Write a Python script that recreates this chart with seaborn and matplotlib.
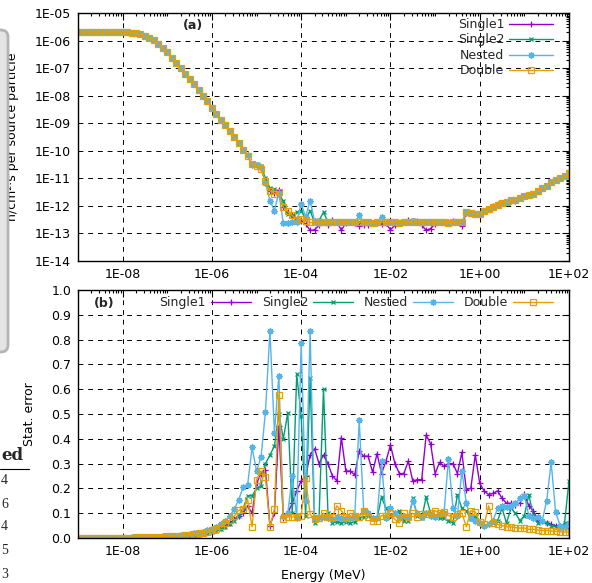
import matplotlib
matplotlib.use("Agg")
import matplotlib.pyplot as plt
import seaborn as sns
import numpy as np
from matplotlib.ticker import FixedLocator, FuncFormatter, LogLocator, NullFormatter, MultipleLocator
from matplotlib.patches import FancyBboxPatch
from matplotlib.lines import Line2D

sns.set_theme(style="white")
plt.rcParams['font.family'] = ['DejaVu Sans']

# ---------------- data ----------------
log_energy = [
    -9.0, -8.9, -8.8, -8.7, -8.6, -8.5, -8.4, -8.3, -8.2, -8.1,
    -8.0, -7.9, -7.8, -7.7, -7.6, -7.5, -7.4, -7.3, -7.2, -7.1,
    -7.0, -6.9, -6.8, -6.7, -6.6, -6.5, -6.4, -6.3, -6.2, -6.1,
    -6.0, -5.9, -5.8, -5.7, -5.6, -5.5, -5.4, -5.3, -5.2, -5.1,
    -5.0, -4.9, -4.8, -4.7, -4.6, -4.5, -4.4, -4.3, -4.2, -4.1,
    -4.0, -3.9, -3.8, -3.7, -3.6, -3.5, -3.4, -3.3, -3.2, -3.1,
    -3.0, -2.9, -2.8, -2.7, -2.6, -2.5, -2.4, -2.3, -2.2, -2.1,
    -2.0, -1.9, -1.8, -1.7, -1.6, -1.5, -1.4, -1.3, -1.2, -1.1,
    -1.0, -0.9, -0.8, -0.7, -0.6, -0.5, -0.4, -0.3, -0.2, -0.1,
    0.0, 0.1, 0.2, 0.3, 0.4, 0.5, 0.6, 0.7, 0.8, 0.9,
    1.0, 1.1, 1.2, 1.3, 1.4, 1.5, 1.6, 1.7, 1.8, 1.9,
    2.0,
]
energy = [10.0 ** e for e in log_energy]
series_names = ["Single1", "Single2", "Nested", "Double"]

flux_single1 = [
    2.05e-6, 2.05e-6, 2.05e-6, 2.05e-6, 2.05e-6, 2.05e-6, 2.05e-6, 2.05e-6, 2.05e-6, 2.03e-6,
    2.0e-6, 2.0e-6, 1.93e-6, 1.82e-6, 1.66e-6, 1.51e-6, 1.26e-6, 1.02e-6, 7.6e-7, 5.5e-7,
    3.7e-7, 2.4e-7, 1.5e-7, 9.8e-8, 6.2e-8, 4.0e-8, 2.6e-8, 1.6e-8, 9.8e-9, 6.2e-9,
    3.7e-9, 2.2e-9, 1.35e-9, 8.7e-10, 5.1e-10, 3.1e-10, 1.9e-10, 1.1e-10, 6.3e-11, 3.0e-11,
    2.8e-11, 2.2e-11, 7.5e-12, 3.4e-12, 2.9e-12, 3.7e-12, 9.5e-13, 6.0e-13, 4.8e-13, 3.4e-13,
    2.9e-13, 2.2e-13, 1.3e-13, 1.35e-13, 2.0e-13, 2.6e-13, 2.1e-13, 3.2e-13, 2.7e-13, 1.3e-13,
    2.4e-13, 2.5e-13, 2.3e-13, 1.8e-13, 2.0e-13, 2.1e-13, 2.3e-13, 2.4e-13, 2.2e-13, 2.3e-13,
    1.35e-13, 2.0e-13, 2.4e-13, 2.5e-13, 3.0e-13, 2.9e-13, 2.9e-13, 2.0e-13, 1.3e-13, 1.5e-13,
    2.2e-13, 2.6e-13, 2.5e-13, 2.7e-13, 2.8e-13, 2.5e-13, 1.9e-13, 5.7e-13, 5.6e-13, 5.1e-13,
    5.2e-13, 6.3e-13, 7.9e-13, 1.0e-12, 1.15e-12, 1.26e-12, 1.41e-12, 1.45e-12, 1.5e-12, 1.9e-12,
    2.24e-12, 2.5e-12, 2.8e-12, 3.5e-12, 4.5e-12, 5.4e-12, 7.1e-12, 8.5e-12, 1.0e-11, 1.17e-11,
    1.5e-11,
]
flux_single2 = [
    2.05e-6, 2.05e-6, 2.05e-6, 2.05e-6, 2.05e-6, 2.05e-6, 2.05e-6, 2.05e-6, 2.05e-6, 2.03e-6,
    2.0e-6, 2.0e-6, 1.93e-6, 1.82e-6, 1.66e-6, 1.51e-6, 1.26e-6, 1.02e-6, 7.6e-7, 5.5e-7,
    3.7e-7, 2.4e-7, 1.5e-7, 9.8e-8, 6.2e-8, 4.0e-8, 2.6e-8, 1.6e-8, 9.8e-9, 6.2e-9,
    3.7e-9, 2.2e-9, 1.35e-9, 8.7e-10, 5.1e-10, 3.1e-10, 1.9e-10, 1.2e-10, 7.0e-11, 3.2e-11,
    3.3e-11, 2.8e-11, 1.0e-11, 4.5e-12, 4.0e-12, 2.5e-12, 1.55e-12, 5.0e-13, 4.2e-13, 5.9e-13,
    6.8e-13, 3.3e-13, 6.8e-13, 2.5e-13, 3.0e-13, 5.9e-13, 2.6e-13, 2.3e-13, 2.6e-13, 2.5e-13,
    2.5e-13, 2.6e-13, 2.5e-13, 2.6e-13, 2.6e-13, 2.5e-13, 2.4e-13, 2.5e-13, 2.6e-13, 2.5e-13,
    2.5e-13, 2.6e-13, 2.4e-13, 2.5e-13, 2.6e-13, 3.0e-13, 2.6e-13, 2.5e-13, 2.5e-13, 2.6e-13,
    2.5e-13, 2.7e-13, 2.5e-13, 2.4e-13, 2.5e-13, 2.6e-13, 2.5e-13, 5.9e-13, 5.6e-13, 5.1e-13,
    5.2e-13, 6.3e-13, 7.9e-13, 8.9e-13, 1.07e-12, 1.26e-12, 1.41e-12, 1.58e-12, 1.66e-12, 1.9e-12,
    2.24e-12, 2.5e-12, 2.8e-12, 3.5e-12, 4.5e-12, 5.4e-12, 7.1e-12, 8.5e-12, 1.0e-11, 1.17e-11,
    1.6e-11,
]
flux_nested = [
    2.05e-6, 2.05e-6, 2.05e-6, 2.05e-6, 2.05e-6, 2.05e-6, 2.05e-6, 2.05e-6, 2.05e-6, 2.03e-6,
    2.0e-6, 2.0e-6, 1.93e-6, 1.82e-6, 1.66e-6, 1.51e-6, 1.26e-6, 1.02e-6, 7.6e-7, 5.5e-7,
    3.7e-7, 2.4e-7, 1.5e-7, 9.8e-8, 6.2e-8, 4.0e-8, 2.6e-8, 1.6e-8, 9.8e-9, 6.2e-9,
    3.7e-9, 2.2e-9, 1.35e-9, 8.7e-10, 5.1e-10, 3.1e-10, 1.9e-10, 1.05e-10, 6.8e-11, 3.4e-11,
    3.0e-11, 2.5e-11, 7.0e-12, 1.55e-12, 6.8e-13, 3.0e-12, 2.3e-13, 2.4e-13, 2.6e-13, 2.7e-13,
    1.2e-12, 4.0e-13, 1.55e-12, 2.8e-13, 2.4e-13, 2.5e-13, 2.5e-13, 2.6e-13, 2.7e-13, 2.5e-13,
    2.5e-13, 2.6e-13, 2.5e-13, 4.5e-13, 2.6e-13, 2.5e-13, 2.4e-13, 2.5e-13, 4.0e-13, 2.5e-13,
    2.5e-13, 2.6e-13, 2.4e-13, 2.5e-13, 2.6e-13, 2.7e-13, 2.6e-13, 2.5e-13, 2.5e-13, 2.6e-13,
    2.5e-13, 2.7e-13, 2.5e-13, 2.4e-13, 2.5e-13, 2.6e-13, 2.5e-13, 5.9e-13, 5.6e-13, 5.1e-13,
    5.2e-13, 6.3e-13, 7.9e-13, 8.9e-13, 1.07e-12, 1.26e-12, 1.41e-12, 1.58e-12, 1.66e-12, 1.9e-12,
    2.24e-12, 2.5e-12, 2.8e-12, 3.6e-12, 4.5e-12, 5.4e-12, 7.1e-12, 8.5e-12, 1.0e-11, 1.2e-11,
    1.5e-11,
]
flux_double = [
    2.05e-6, 2.05e-6, 2.05e-6, 2.05e-6, 2.05e-6, 2.05e-6, 2.05e-6, 2.05e-6, 2.05e-6, 2.03e-6,
    2.0e-6, 2.0e-6, 1.93e-6, 1.82e-6, 1.66e-6, 1.51e-6, 1.26e-6, 1.02e-6, 7.6e-7, 5.5e-7,
    3.7e-7, 2.4e-7, 1.5e-7, 9.8e-8, 6.2e-8, 4.0e-8, 2.6e-8, 1.6e-8, 9.8e-9, 6.2e-9,
    3.7e-9, 2.2e-9, 1.35e-9, 8.7e-10, 5.1e-10, 3.1e-10, 1.9e-10, 1.05e-10, 6.3e-11, 3.2e-11,
    2.8e-11, 2.2e-11, 7.9e-12, 3.5e-12, 2.8e-12, 3.2e-12, 8.9e-13, 6.3e-13, 4.5e-13, 3.2e-13,
    3.3e-13, 2.8e-13, 2.5e-13, 2.5e-13, 2.6e-13, 2.5e-13, 2.5e-13, 2.6e-13, 2.7e-13, 2.5e-13,
    2.5e-13, 2.6e-13, 2.5e-13, 2.5e-13, 2.6e-13, 2.5e-13, 2.4e-13, 2.5e-13, 2.6e-13, 2.5e-13,
    2.5e-13, 2.6e-13, 2.4e-13, 2.5e-13, 2.6e-13, 2.5e-13, 2.6e-13, 2.5e-13, 2.5e-13, 2.6e-13,
    2.5e-13, 2.7e-13, 2.5e-13, 2.4e-13, 2.5e-13, 2.6e-13, 2.5e-13, 5.9e-13, 5.6e-13, 5.1e-13,
    5.2e-13, 6.3e-13, 7.9e-13, 8.9e-13, 1.07e-12, 1.26e-12, 1.41e-12, 1.58e-12, 1.66e-12, 1.9e-12,
    2.24e-12, 2.5e-12, 2.8e-12, 3.5e-12, 4.5e-12, 5.4e-12, 7.1e-12, 8.5e-12, 1.0e-11, 1.17e-11,
    1.5e-11,
]

err_single1 = [
    0.001, 0.001, 0.001, 0.001, 0.001, 0.001, 0.001, 0.001, 0.002, 0.002,
    0.002, 0.002, 0.002, 0.003, 0.003, 0.003, 0.004, 0.004, 0.005, 0.005,
    0.006, 0.007, 0.008, 0.009, 0.011, 0.012, 0.014, 0.017, 0.020, 0.024,
    0.028, 0.034, 0.042, 0.050, 0.060, 0.075, 0.090, 0.100, 0.130, 0.100,
    0.220, 0.260, 0.275, 0.050, 0.100, 0.450, 0.080, 0.100, 0.140, 0.190,
    0.230, 0.250, 0.335, 0.360, 0.300, 0.335, 0.300, 0.250, 0.230, 0.405,
    0.270, 0.270, 0.255, 0.350, 0.330, 0.330, 0.265, 0.340, 0.260, 0.310,
    0.375, 0.300, 0.260, 0.260, 0.310, 0.230, 0.235, 0.235, 0.415, 0.380,
    0.260, 0.305, 0.290, 0.300, 0.300, 0.260, 0.345, 0.195, 0.200, 0.335,
    0.220, 0.190, 0.175, 0.180, 0.190, 0.160, 0.140, 0.140, 0.135, 0.140,
    0.177, 0.130, 0.110, 0.070, 0.070, 0.060, 0.055, 0.050, 0.045, 0.043,
    0.040,
]
err_single2 = [
    0.001, 0.001, 0.001, 0.001, 0.001, 0.001, 0.001, 0.001, 0.001, 0.001,
    0.001, 0.001, 0.002, 0.002, 0.002, 0.002, 0.003, 0.003, 0.004, 0.004,
    0.005, 0.006, 0.007, 0.008, 0.009, 0.010, 0.012, 0.014, 0.017, 0.020,
    0.024, 0.030, 0.036, 0.045, 0.055, 0.070, 0.090, 0.120, 0.170, 0.170,
    0.200, 0.210, 0.300, 0.335, 0.370, 0.500, 0.400, 0.505, 0.100, 0.660,
    0.490, 0.090, 0.645, 0.060, 0.080, 0.600, 0.100, 0.060, 0.065, 0.060,
    0.065, 0.060, 0.065, 0.080, 0.085, 0.090, 0.075, 0.080, 0.165, 0.120,
    0.090, 0.100, 0.110, 0.070, 0.070, 0.160, 0.090, 0.080, 0.165, 0.100,
    0.090, 0.080, 0.080, 0.070, 0.060, 0.175, 0.120, 0.110, 0.075, 0.090,
    0.060, 0.050, 0.055, 0.060, 0.070, 0.120, 0.060, 0.120, 0.100, 0.070,
    0.090, 0.175, 0.090, 0.060, 0.070, 0.060, 0.050, 0.045, 0.040, 0.060,
    0.230,
]
err_nested = [
    0.001, 0.001, 0.001, 0.001, 0.001, 0.001, 0.001, 0.001, 0.002, 0.002,
    0.002, 0.002, 0.003, 0.003, 0.003, 0.004, 0.004, 0.005, 0.006, 0.007,
    0.008, 0.009, 0.010, 0.012, 0.014, 0.016, 0.019, 0.022, 0.026, 0.031,
    0.037, 0.045, 0.055, 0.068, 0.090, 0.115, 0.155, 0.205, 0.215, 0.365,
    0.270, 0.325, 0.510, 0.835, 0.425, 0.655, 0.090, 0.100, 0.250, 0.080,
    0.785, 0.150, 0.835, 0.080, 0.085, 0.085, 0.080, 0.075, 0.085, 0.080,
    0.075, 0.080, 0.085, 0.475, 0.110, 0.100, 0.080, 0.080, 0.310, 0.080,
    0.120, 0.100, 0.085, 0.090, 0.085, 0.150, 0.100, 0.085, 0.100, 0.090,
    0.085, 0.095, 0.100, 0.320, 0.120, 0.090, 0.270, 0.140, 0.080, 0.070,
    0.060, 0.050, 0.055, 0.070, 0.120, 0.130, 0.125, 0.130, 0.140, 0.160,
    0.170, 0.090, 0.080, 0.085, 0.070, 0.150, 0.305, 0.105, 0.050, 0.045,
    0.060,
]
err_double = [
    0.001, 0.001, 0.001, 0.001, 0.001, 0.001, 0.001, 0.001, 0.002, 0.002,
    0.002, 0.002, 0.002, 0.003, 0.003, 0.003, 0.004, 0.004, 0.005, 0.006,
    0.007, 0.008, 0.009, 0.010, 0.012, 0.013, 0.016, 0.019, 0.022, 0.026,
    0.031, 0.038, 0.048, 0.060, 0.072, 0.088, 0.112, 0.115, 0.155, 0.045,
    0.235, 0.270, 0.245, 0.045, 0.115, 0.578, 0.075, 0.085, 0.085, 0.085,
    0.090, 0.240, 0.095, 0.075, 0.080, 0.100, 0.085, 0.085, 0.130, 0.110,
    0.085, 0.100, 0.090, 0.085, 0.110, 0.085, 0.070, 0.070, 0.090, 0.090,
    0.100, 0.075, 0.060, 0.100, 0.085, 0.100, 0.085, 0.095, 0.095, 0.100,
    0.110, 0.100, 0.105, 0.090, 0.085, 0.095, 0.100, 0.045, 0.110, 0.105,
    0.065, 0.055, 0.130, 0.060, 0.055, 0.050, 0.045, 0.045, 0.042, 0.040,
    0.040, 0.035, 0.035, 0.032, 0.030, 0.030, 0.028, 0.027, 0.025, 0.024,
    0.024,
]

flux = {"Single1": flux_single1, "Single2": flux_single2, "Nested": flux_nested, "Double": flux_double}
err = {"Single1": err_single1, "Single2": err_single2, "Nested": err_nested, "Double": err_double}

# ---------------- styles ----------------
styles = {
    "Single1": dict(color="#9400d3", marker="+", markersize=4.5, markeredgewidth=0.9,
                    markerfacecolor="#9400d3", markeredgecolor="#9400d3"),
    "Single2": dict(color="#009e73", marker="x", markersize=3.5, markeredgewidth=0.9,
                    markerfacecolor="#009e73", markeredgecolor="#009e73"),
    "Nested": dict(color="#56b4e9", marker=(8, 2, 0), markersize=4.5, markeredgewidth=1.0,
                   markerfacecolor="#56b4e9", markeredgecolor="#56b4e9"),
    "Double": dict(color="#e69f00", marker="s", markersize=4.0, markeredgewidth=0.9,
                   markerfacecolor="none", markeredgecolor="#e69f00"),
}

W, H = 592, 583
fig = plt.figure(figsize=(W / 100, H / 100), dpi=100)
fig.patch.set_facecolor("white")


def fbox(l, t, r, b):
    return [l / W, 1 - b / H, (r - l) / W, (b - t) / H]


ax1 = fig.add_axes(fbox(78, 13, 569, 261))
ax2 = fig.add_axes(fbox(78, 290, 569, 538))

for name in series_names:
    sns.lineplot(x=energy, y=flux[name], ax=ax1, linewidth=1.0, errorbar=None,
                 legend=False, **styles[name])
    sns.lineplot(x=energy, y=err[name], ax=ax2, linewidth=1.0, errorbar=None,
                 legend=False, **styles[name])


def efmt(v, pos):
    ex = int(round(np.log10(v)))
    return f"1E{ex:+03d}"


xmaj = [1e-8, 1e-6, 1e-4, 1e-2, 1e0, 1e2]
grid_kw = dict(color="black", linestyle=(0, (5, 5)), linewidth=0.7)
for ax in (ax1, ax2):
    ax.set_xscale("log")
    ax.set_xlim(1e-9, 1e2)
    ax.xaxis.set_major_locator(FixedLocator(xmaj))
    ax.xaxis.set_major_formatter(FuncFormatter(efmt))
    ax.xaxis.set_minor_locator(LogLocator(base=10, subs=np.arange(1, 10), numticks=100))
    ax.xaxis.set_minor_formatter(NullFormatter())
    ax.tick_params(which="both", direction="in", top=True, right=True, colors="black",
                   labelsize=9, width=0.8)
    ax.tick_params(which="major", length=5)
    ax.tick_params(which="minor", length=2.5)
    ax.tick_params(axis="x", pad=5)
    ax.tick_params(axis="y", pad=5)
    for s in ax.spines.values():
        s.set_color("black")
        s.set_linewidth(1.0)
    ax.set_axisbelow(True)
    ax.grid(True, which="major", **grid_kw)
    ax.set_xlabel("")
    ax.set_ylabel("")

ax1.set_yscale("log")
ax1.set_ylim(1e-14, 1e-5)
ax1.yaxis.set_major_locator(FixedLocator([10.0 ** e for e in range(-14, -4)]))
ax1.yaxis.set_major_formatter(FuncFormatter(efmt))
ax1.yaxis.set_minor_locator(LogLocator(base=10, subs=np.arange(2, 10), numticks=100))
ax1.yaxis.set_minor_formatter(NullFormatter())

ax2.set_ylim(0, 1.0)
ax2.yaxis.set_major_locator(MultipleLocator(0.1))
ax2.yaxis.set_major_formatter(FuncFormatter(lambda v, p: f"{v:.1f}"))

ax1.set_ylabel("n/cm\u00b2\u00b7s per source particle", fontsize=9, color="black")
ax1.yaxis.set_label_coords((19 - 78) / 491, 0.5)
ax2.set_ylabel("Stat. error", fontsize=9, color="black")
ax2.yaxis.set_label_coords((36 - 78) / 491, 0.5)
ax2.set_xlabel("Energy (MeV)", fontsize=9, color="black")
ax2.xaxis.set_label_coords(0.5, (538 - 569) / 248)
ax2.xaxis.label.set_va("top")

# legends
handles1 = ax1.lines[:4]
ax1.legend(handles1, series_names, loc="upper right", bbox_to_anchor=(553 / W, 1 - 18 / H),
           bbox_transform=fig.transFigure, frameon=False, markerfirst=False, fontsize=9,
           handlelength=3.5, handletextpad=0.4, labelspacing=0.2, borderpad=0, borderaxespad=0)
handles2 = ax2.lines[:4]
ax2.legend(handles2, series_names, loc="upper right", bbox_to_anchor=(553 / W, 1 - 296 / H),
           bbox_transform=fig.transFigure, frameon=False, markerfirst=False, fontsize=9, ncol=4,
           handlelength=3.2, handletextpad=0.4, columnspacing=0.85, borderpad=0, borderaxespad=0)

fig.text(193.5 / W, 1 - 26 / H, "(a)", ha="center", va="center", fontsize=9, fontweight="bold")
fig.text(104.5 / W, 1 - 303 / H, "(b)", ha="center", va="center", fontsize=9, fontweight="bold")

# page artefacts at the left edge of the screenshot
fig.patches.append(FancyBboxPatch((-12 / W, 1 - 352 / H), 20 / W, 322 / H,
                                  boxstyle="round,pad=0,rounding_size=0.012",
                                  transform=fig.transFigure, facecolor="#e4e4e4",
                                  edgecolor="#b4b4b4", linewidth=2.0, zorder=0))
fig.text(1 / W, 1 - 456 / H, "ed", ha="left", va="center", fontsize=12, fontweight="bold",
         family=["DejaVu Serif"])
fig.add_artist(Line2D([0, 29 / W], [1 - 469 / H, 1 - 469 / H], transform=fig.transFigure,
                      color="black", linewidth=0.8))
for yy, d in zip([481, 504, 527, 551, 574], ["4", "6", "4", "5", "3"]):
    fig.text(1 / W, 1 - yy / H, d, ha="left", va="center", fontsize=10,
             family=["Liberation Serif"])

fig.savefig("out.png", dpi=100, facecolor="white")
